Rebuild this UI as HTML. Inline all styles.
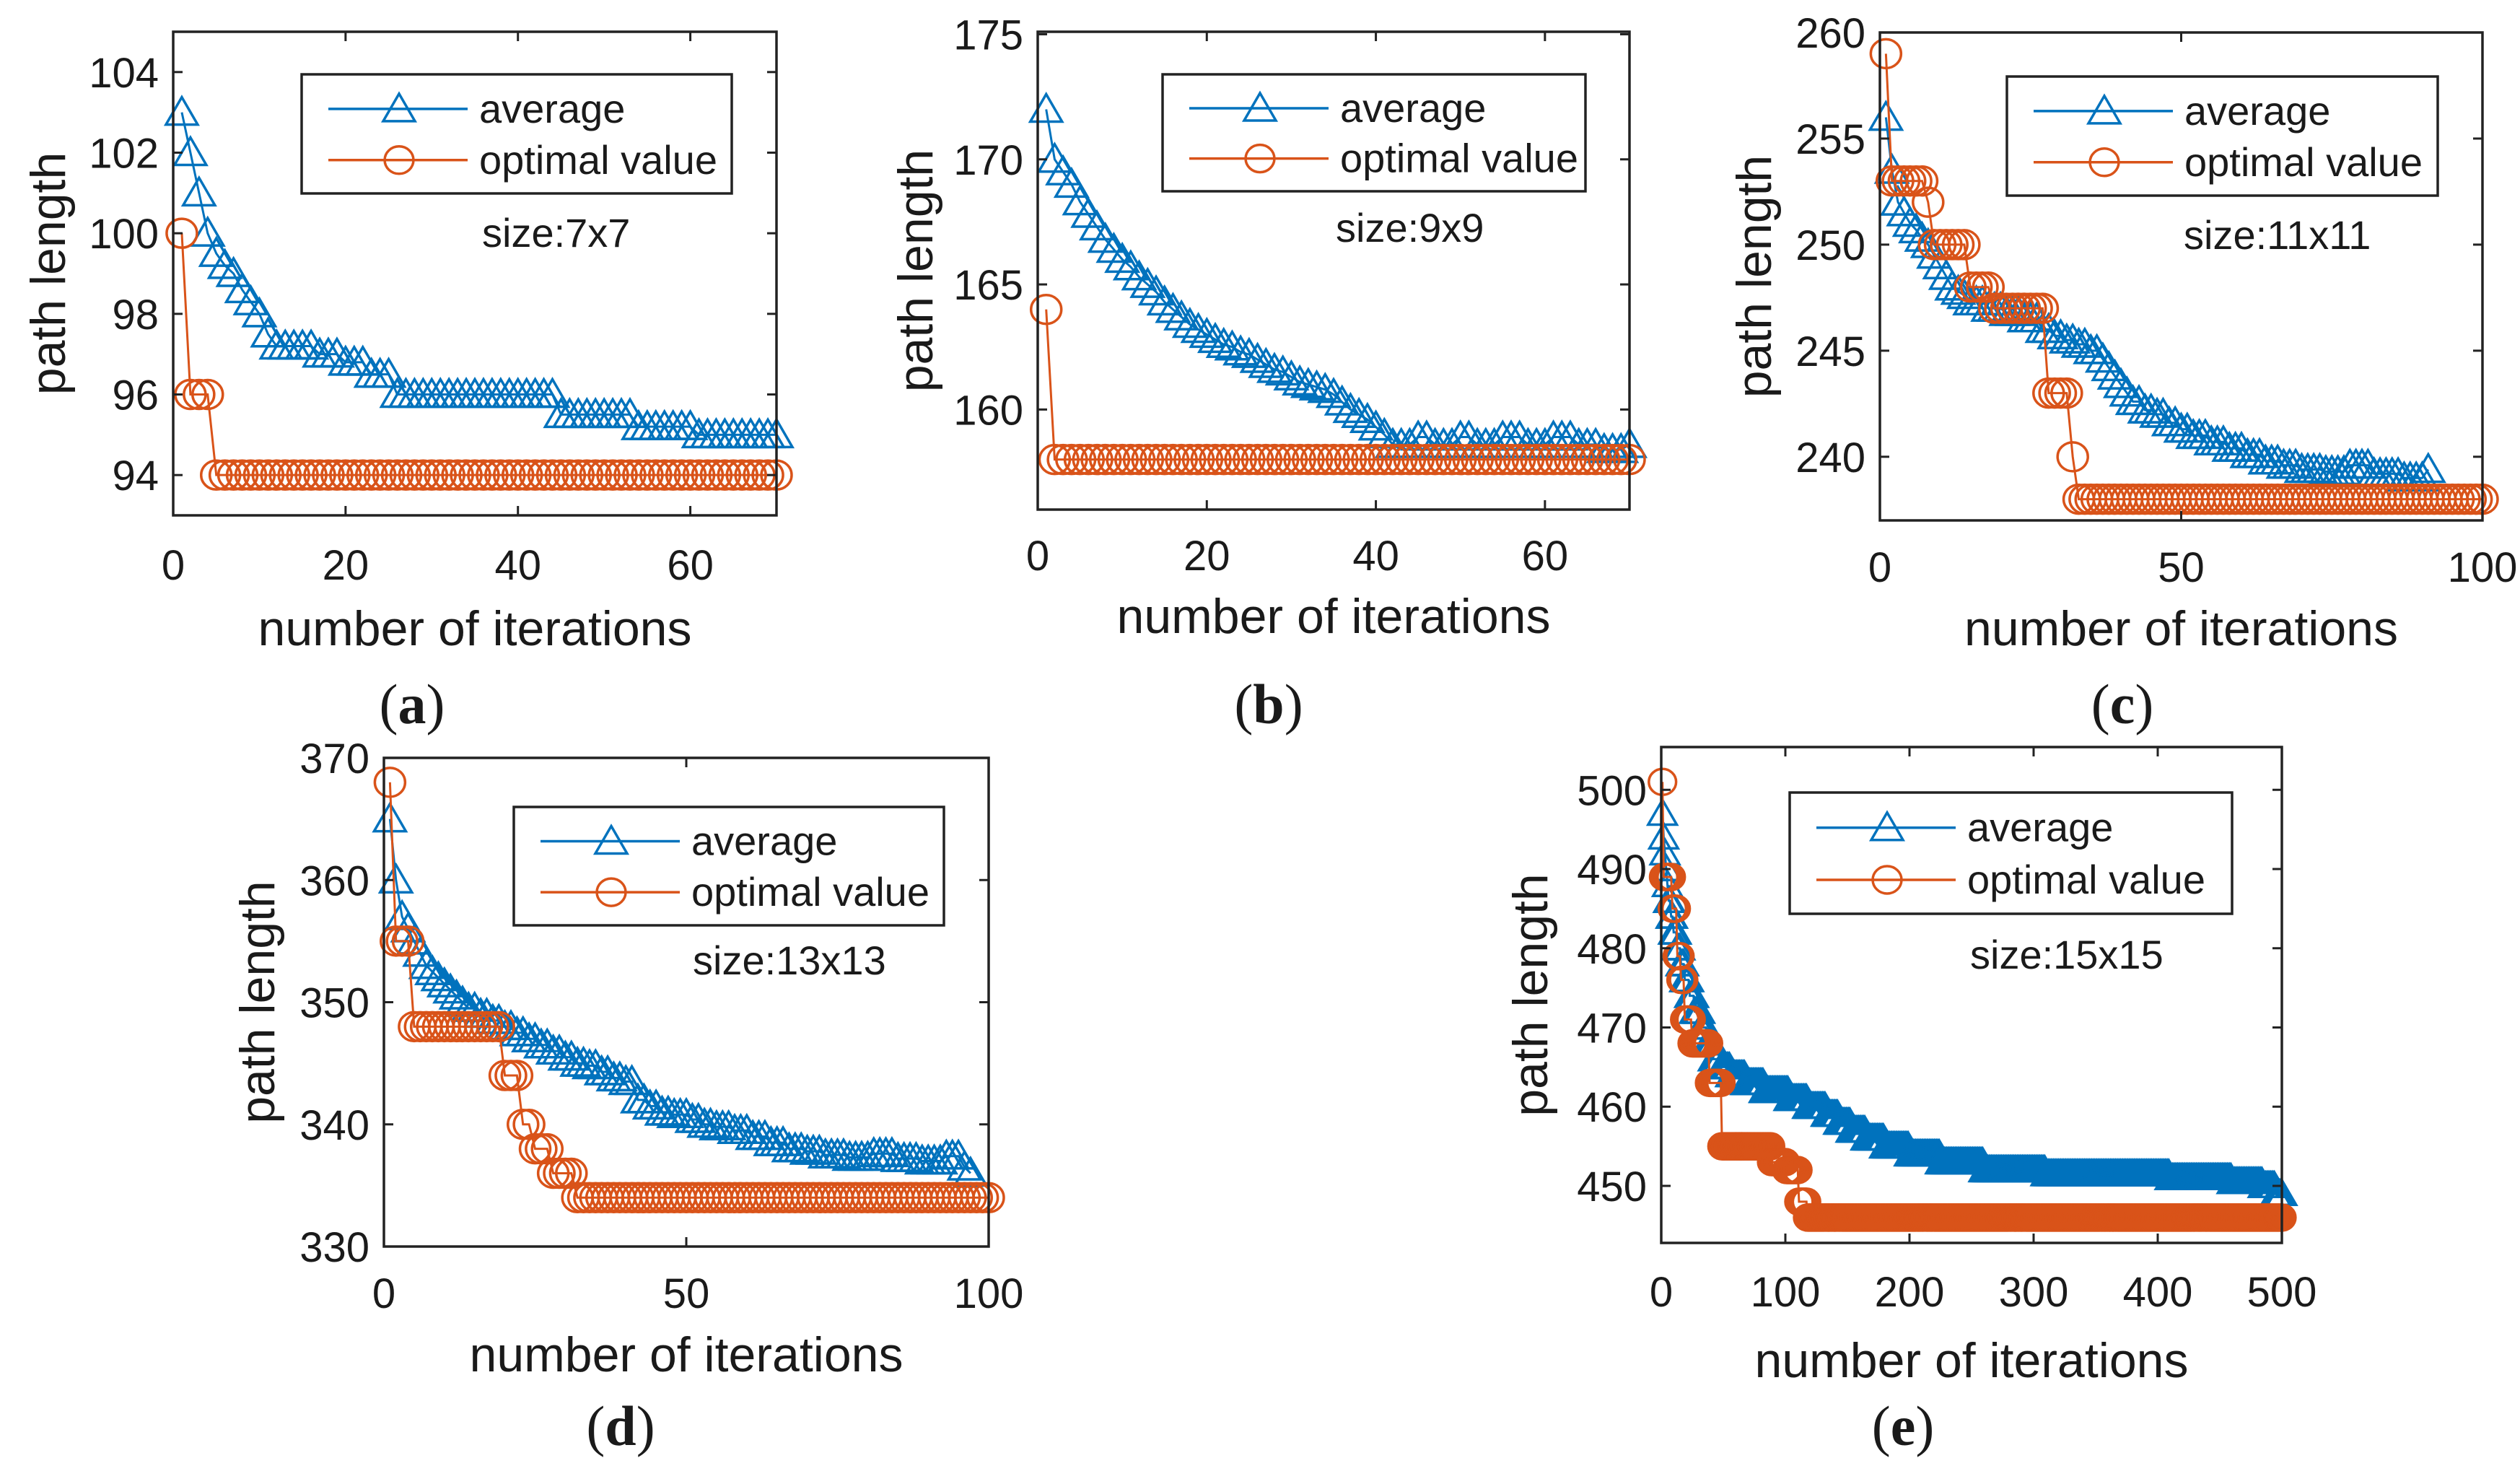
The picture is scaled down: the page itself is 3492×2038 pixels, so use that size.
<!DOCTYPE html>
<html><head><meta charset="utf-8"><style>
html,body{margin:0;padding:0;background:#fff;}
svg{display:block;}
text{font-family:"Liberation Sans",Arial,sans-serif;fill:#1a1a1a;}
.cap{font-family:"Liberation Serif","Times New Roman",serif;}
</style></head><body>
<svg id="fig" width="3492" height="2038" viewBox="0 0 3492 2038" xmlns="http://www.w3.org/2000/svg"></svg>
<script>
// ---- data (run-length: value, count; x starts at 1) ----
const aAvgVals=[103,102,101,100,99.5,99.2,99,98.6,98.3,98,97.5,97.2,97,96.8,96.5,96,95.5,95.2,95];
const aAvgCounts=[1,1,1,1,1,1,1,1,1,1,1,5,3,3,3,19,9,7,10];
const aOptVals=[100,96,94];
const aOptCounts=[1,3,66];
const bAvgVals=[172,170,169.5,169,168.3,167.8,167.3,166.8,166.4,166,165.7,165.3,165,164.7,164.3,164,163.7,163.4,163.2,163,162.8,162.6,162.5,162.3,162.2,162,161.8,161.6,161.5,161.3,161.1,161,160.9,160.8,160.6,160.3,160,159.8,159.6,159.3,159,158.6,158.9,158.6,158.9,158.6,158.9,158.6,158.9,158.6,158.4,158.6];
const bAvgCounts=[1,1,1,1,1,1,1,1,1,1,1,1,1,1,1,1,1,1,1,1,1,1,1,1,1,1,1,1,1,1,1,1,1,1,1,1,1,1,1,1,1,3,2,3,2,3,3,3,3,3,3,1];
const bOptVals=[164,158];
const bOptCounts=[1,69];
const cAvgVals=[256,253.5,252,251.5,251,250.7,250.3,250,249.5,249,248.5,248,247.8,247.6,247.3,247,246.8,246.5,246,245.7,245.5,245.3,245,244.6,244.2,243.8,243.4,243,242.6,242.2,242,241.6,241.3,241,240.7,240.4,240.1,239.8,239.6,239.4,239.3,239.6,239.2,239,239.4];
const cAvgCounts=[1,1,1,1,1,1,1,1,1,1,1,1,1,1,3,3,3,3,2,2,2,2,2,1,1,1,1,1,2,2,2,2,2,3,3,3,3,3,3,4,4,4,5,4,1];
const cOptVals=[259,253,252,250,248,247,243,240,238];
const cOptCounts=[1,6,1,6,4,9,4,1,68];
const dAvgVals=[365,360,357,356,355,354,353,352.5,352,351.5,351,350.5,350,349.5,349,348.5,348,347.5,347,346.5,346,345.5,345,344.8,344.3,343.8,343.5,342,341.5,341,340.8,340.4,340,339.8,339.5,339,338.5,338,337.8,337.5,337.3,337.6,337.2,337,337.4,336.5,336];
const dAvgCounts=[1,1,1,1,1,1,1,1,1,1,1,1,1,2,2,2,2,2,2,2,2,2,2,2,2,2,2,2,2,2,3,2,2,3,3,3,3,3,3,4,4,4,4,4,3,1,1];
const dOptVals=[368,355,348,344,340,338,336,334];
const dOptCounts=[1,3,15,3,2,3,4,69];
const eAvgVals=[497,494,492,490,488,486,484,482,480,478,476,474,472,470,468,466,465,464,463,462,461,460,459,458,457,456,455,454,453,452,451.5,451,450.5,450,449];
const eAvgCounts=[1,1,1,1,1,2,2,3,3,3,4,4,5,5,5,6,8,12,15,20,15,15,10,10,12,15,20,25,35,50,100,50,25,10,6];
const eOptVals=[501,489,485,479,476,471,468,463,455,453,452,448,446];
const eOptCounts=[1,7,4,3,3,6,14,10,40,12,10,7,383];
// ---- tick labels ----
const aXTicks=[0,20,40,60], aYTicks=[94,96,98,100,102,104];
const bXTicks=[0,20,40,60], bYTicks=[160,165,170,175];
const cXTicks=[0,50,100], cYTicks=[240,245,250,255,260];
const dXTicks=[0,50,100], dYTicks=[330,340,350,360,370];
const eXTicks=[0,100,200,300,400,500], eYTicks=[450,460,470,480,490,500];
const sizeLabels=["size:7x7","size:9x9","size:11x11","size:13x13","size:15x15"];
const captions=["a","b","c","d","e"];

const BLUE="#0072BD", ORANGE="#D95319";
const NS="http://www.w3.org/2000/svg";
const svg=document.getElementById('fig');
function mk(tag,attrs,parent){const e=document.createElementNS(NS,tag);for(const k in attrs)e.setAttribute(k,attrs[k]);(parent||svg).appendChild(e);return e;}
function expand(vals,counts){const out=[];for(let i=0;i<vals.length;i++)for(let j=0;j<counts[i];j++)out.push(vals[i]);return out;}

const panels=[
 {id:"a",L:240,R:1076,T:44,B:714,xmin:0,xmax:70,ymin:93,ymax:105,xt:aXTicks,yt:aYTicks,avg:[aAvgVals,aAvgCounts],opt:[aOptVals,aOptCounts],lg:[418,103,596,165],sz:[668,342],ylx:72,tb:803,xlb:894,cap:[571,1002],r:20},
 {id:"b",L:1438,R:2258,T:44,B:706,xmin:0,xmax:70,ymin:156,ymax:175.1,xt:bXTicks,yt:bYTicks,avg:[bAvgVals,bAvgCounts],opt:[bOptVals,bOptCounts],lg:[1611,103,586,162],sz:[1851,335],ylx:1274,tb:790,xlb:877,cap:[1758,1002],r:20},
 {id:"c",L:2605,R:3440,T:45,B:721,xmin:0,xmax:100,ymin:237,ymax:260,xt:cXTicks,yt:cYTicks,avg:[cAvgVals,cAvgCounts],opt:[cOptVals,cOptCounts],lg:[2781,106,597,165],sz:[3026,345],ylx:2436,tb:806,xlb:894,cap:[2941,1002],r:20},
 {id:"d",L:532,R:1370,T:1050,B:1727,xmin:0,xmax:100,ymin:330,ymax:370,xt:dXTicks,yt:dYTicks,avg:[dAvgVals,dAvgCounts],opt:[dOptVals,dOptCounts],lg:[712,1118,596,164],sz:[960,1350],ylx:362,tb:1812,xlb:1900,cap:[860,2002],r:20},
 {id:"e",L:2302,R:3162,T:1035,B:1722,xmin:0,xmax:500,ymin:442.8,ymax:505.4,xt:eXTicks,yt:eYTicks,avg:[eAvgVals,eAvgCounts],opt:[eOptVals,eOptCounts],lg:[2480,1098,613,168],sz:[2730,1342],ylx:2126,tb:1810,xlb:1908,cap:[2637,2002],r:18}
];

function tri(g,cx,cy,s,color){
  const p=`${cx},${cy-s*1.05} ${cx+s*1.1},${cy+s*0.85} ${cx-s*1.1},${cy+s*0.85}`;
  return mk('polygon',{points:p,fill:'none',stroke:color,'stroke-width':3.5},g);
}
function circ(g,cx,cy,r,color){
  return mk('ellipse',{cx:cx,cy:cy,rx:r*1.05,ry:r,fill:'none',stroke:color,'stroke-width':3.5},g);
}

panels.forEach((P,pi)=>{
  const g=mk('g',{});
  
  
  const X=v=>P.L+(v-P.xmin)/(P.xmax-P.xmin)*(P.R-P.L);
  const Y=v=>P.B-(v-P.ymin)/(P.ymax-P.ymin)*(P.B-P.T);
  [[P.avg,BLUE,'average'],[P.opt,ORANGE,'optimal']].forEach(([s,col,nm])=>{
    const vals=expand(s[0],s[1]);
    const sg=mk('g',{},g);
    
    
    const pts=vals.map((v,i)=>X(i+1)+','+Y(v)).join(' ');
    mk('polyline',{points:pts,fill:'none',stroke:col,'stroke-width':3},sg);
    vals.forEach((v,i)=>{
      let m;
      if(nm==='average') m=tri(sg,X(i+1),Y(v),P.r,col); else m=circ(sg,X(i+1),Y(v),P.r,col);
      
      
    });
  });
  const box=mk('rect',{x:P.L,y:P.T,width:P.R-P.L,height:P.B-P.T,fill:'none',stroke:'#222','stroke-width':3.5},g);
  
  
  P.xt.forEach(t=>{
    const x=X(t);
    mk('line',{x1:x,y1:P.B,x2:x,y2:P.B-13,stroke:'#222','stroke-width':3},g);
    mk('line',{x1:x,y1:P.T,x2:x,y2:P.T+13,stroke:'#222','stroke-width':3},g);
    const tx=mk('text',{x:x,y:P.tb,'font-size':58,'text-anchor':'middle'},g);
    tx.textContent=t;
    
    
  });
  P.yt.forEach(t=>{
    const y=Y(t);
    mk('line',{x1:P.L,y1:y,x2:P.L+13,y2:y,stroke:'#222','stroke-width':3},g);
    mk('line',{x1:P.R,y1:y,x2:P.R-13,y2:y,stroke:'#222','stroke-width':3},g);
    const tx=mk('text',{x:P.L-20,y:y+21,'font-size':58,'text-anchor':'end'},g);
    tx.textContent=t;
    
    
  });
  const xl=mk('text',{x:(P.L+P.R)/2,y:P.xlb,'font-size':68,'text-anchor':'middle'},g);
  xl.textContent='number of iterations';
  
  
  const yc=(P.T+P.B)/2;
  const yl=mk('text',{x:P.ylx,y:yc,'font-size':68,'text-anchor':'middle',transform:`rotate(-90 ${P.ylx} ${yc})`,'dominant-baseline':'middle'},g);
  yl.textContent='path length';
  
  
  const [lx,ly,lw,lh]=P.lg;
  const lg=mk('g',{},g);
  
  
  mk('rect',{x:lx,y:ly,width:lw,height:lh,fill:'#fff',stroke:'#222','stroke-width':3.5},lg);
  const rows=[[ly+lh*0.29,BLUE,'average'],[ly+lh*0.72,ORANGE,'optimal value']];
  rows.forEach(([ry,col,label],ri)=>{
    mk('line',{x1:lx+37,y1:ry,x2:lx+230,y2:ry,stroke:col,'stroke-width':3.5},lg);
    if(ri===0) tri(lg,lx+135,ry,20,col); else circ(lg,lx+135,ry,19,col);
    const t=mk('text',{x:lx+246,y:ry+19,'font-size':56},lg);
    t.textContent=label;
    
    
  });
  const st=mk('text',{x:P.sz[0],y:P.sz[1],'font-size':56},g);
  st.textContent=sizeLabels[pi];
  
  
  const cp=mk('text',{x:P.cap[0],y:P.cap[1],'font-size':78,'text-anchor':'middle','class':'cap'},g);
  cp.innerHTML='(<tspan font-weight="bold">'+captions[pi]+'</tspan>)';
  
  
});
</script>
</body></html>
